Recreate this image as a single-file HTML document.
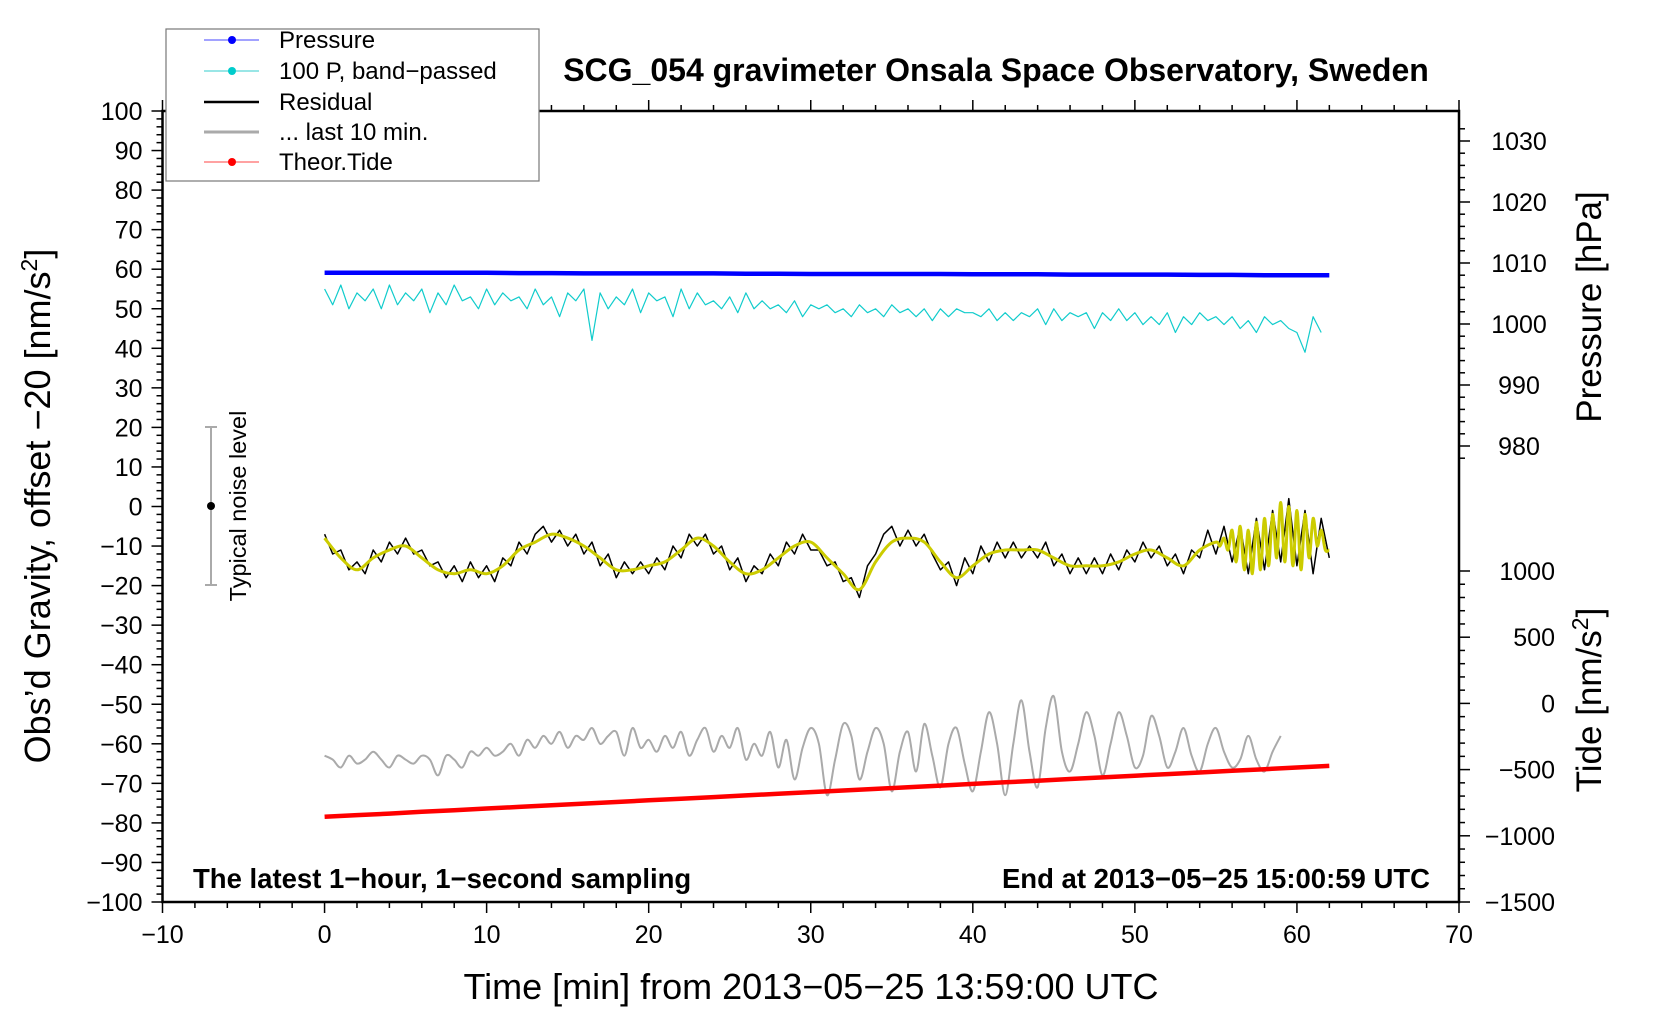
<!DOCTYPE html>
<html><head><meta charset="utf-8"><style>
html,body{margin:0;padding:0;background:#fff;}
svg{display:block;font-family:"Liberation Sans",sans-serif;}
</style></head><body>
<svg id="chart" width="1660" height="1020" viewBox="0 0 1660 1020" xmlns="http://www.w3.org/2000/svg">
<rect x="0" y="0" width="1660" height="1020" fill="#fff"/>
<g id="axes"></g>
<g id="series"></g>
<text x="996" y="81" font-size="32" font-weight="bold" text-anchor="middle">SCG_054 gravimeter Onsala Space Observatory, Sweden</text>
<text x="811" y="999" font-size="36" text-anchor="middle">Time [min] from 2013−05−25 13:59:00 UTC</text>
<text transform="translate(50,506) rotate(-90)" font-size="36" text-anchor="middle">Obs’d Gravity, offset −20 [nm/s<tspan font-size="23" dy="-13">2</tspan><tspan dy="13">]</tspan></text>
<text transform="translate(1601,307) rotate(-90)" font-size="35" text-anchor="middle">Pressure [hPa]</text>
<text transform="translate(1601,700) rotate(-90)" font-size="35" text-anchor="middle">Tide [nm/s<tspan font-size="23" dy="-13">2</tspan><tspan dy="13">]</tspan></text>
<text x="193" y="888" font-size="27.5" font-weight="bold">The latest 1−hour, 1−second sampling</text>
<text x="1430" y="888" font-size="27.5" font-weight="bold" text-anchor="end">End at 2013−05−25 15:00:59 UTC</text>
<g>
<line x1="211" y1="427" x2="211" y2="585" stroke="#aaa" stroke-width="2"/>
<line x1="205" y1="427" x2="217" y2="427" stroke="#aaa" stroke-width="2"/>
<line x1="205" y1="585" x2="217" y2="585" stroke="#aaa" stroke-width="2"/>
<circle cx="211" cy="506" r="4" fill="#000"/>
<text transform="translate(246,506) rotate(-90)" font-size="23.5" text-anchor="middle">Typical noise level</text>
</g>
<g>
<rect x="166" y="29" width="373" height="152" fill="#fff" stroke="#777" stroke-width="1.2"/>
<g><line x1="204" y1="40" x2="259" y2="40" stroke="#44f" stroke-width="1"/><circle cx="232" cy="40" r="4" fill="#00f"/><text x="279" y="48" font-size="24">Pressure</text></g>
<g><line x1="204" y1="71" x2="259" y2="71" stroke="#3cc" stroke-width="1"/><circle cx="232" cy="71" r="4" fill="#0cc"/><text x="279" y="79" font-size="24">100 P, band−passed</text></g>
<g><line x1="204" y1="102" x2="259" y2="102" stroke="#000" stroke-width="2.5"/><text x="279" y="110" font-size="24">Residual</text></g>
<g><line x1="204" y1="132" x2="259" y2="132" stroke="#aaa" stroke-width="3"/><text x="279" y="140" font-size="24">... last 10 min.</text></g>
<g><line x1="204" y1="162" x2="259" y2="162" stroke="#f44" stroke-width="1"/><circle cx="232" cy="162" r="4" fill="#f00"/><text x="279" y="170" font-size="24">Theor.Tide</text></g>
</g>
</svg>
<script>
const residual=[-7,-12,-11,-16,-14,-17,-11,-14,-9,-12,-8,-12,-11,-15,-14,-18,-15,-19,-14,-18,-15,-19,-13,-15,-9,-12,-7,-5,-9,-6,-10,-7,-12,-9,-15,-12,-18,-14,-17,-14,-17,-13,-16,-10,-13,-7,-10,-7,-12,-10,-16,-13,-19,-15,-17,-12,-15,-9,-12,-7,-11,-11,-15,-14,-19,-18,-23,-15,-12,-7,-5,-10,-6,-10,-7,-12,-16,-14,-20,-13,-17,-10,-14,-9,-13,-9,-13,-10,-13,-9,-15,-12,-17,-13,-17,-13,-17,-12,-16,-11,-14,-9,-13,-10,-15,-12,-17,-11,-13,-6,-12,-5,-14,-5,-17,-3,-16,-1,-14,2,-15,-1,-17,-3,-13];
const smooth=[-8,-13,-16,-13,-11,-10,-13,-16,-17,-16,-17,-15,-11,-9,-7,-8,-10,-13,-16,-16,-15,-14,-11,-8,-10,-14,-17,-16,-13,-10,-9,-13,-17,-21,-14,-9,-8,-9,-14,-18,-15,-12,-11,-11,-11,-13,-15,-15,-15,-14,-12,-11,-13,-15,-11,-9];
const smoothTail=[-9,-10,-8,-11,-6,-14,-5,-16,-6,-17,-4,-16,-3,-15,-2,-13,1,-14,0,-15,-1,-16,-2,-13,-3,-10,-6,-11,-11];
const bandpassed=[55,51,56,50,54,52,55,50,56,51,54,52,55,49,54,51,56,52,53,50,55,51,54,52,53,50,55,51,53,48,54,52,55,42,54,50,53,51,55,49,54,52,53,48,55,50,54,51,52,50,53,49,54,50,52,50,51,49,52,48,51,50,51,49,50,48,51,49,50,48,51,49,50,48,50,47,50,48,50,49,49,48,50,47,49,47,49,48,50,46,50,47,49,48,49,45,49,47,50,47,49,46,48,46,49,44,48,46,49,47,48,46,48,45,47,44,48,46,47,45,44,39,48,44];
const last10=[-63,-64,-66,-63,-65,-64,-62,-64,-66,-63,-64,-65,-63,-64,-68,-63,-64,-66,-62,-63,-61,-63,-62,-60,-63,-59,-61,-58,-60,-57,-61,-58,-59,-56,-60,-58,-57,-63,-56,-61,-59,-62,-58,-61,-57,-63,-59,-56,-62,-58,-61,-56,-64,-60,-63,-57,-66,-59,-69,-61,-56,-60,-73,-64,-55,-58,-69,-62,-56,-60,-72,-62,-57,-67,-55,-63,-71,-60,-56,-65,-72,-62,-52,-60,-73,-60,-49,-62,-71,-56,-48,-62,-67,-60,-52,-58,-68,-60,-52,-58,-66,-63,-53,-58,-66,-62,-56,-63,-67,-60,-56,-62,-66,-64,-58,-64,-67,-62,-58];
const pressure=[1008.4,1008.4,1008.4,1008.4,1008.4,1008.4,1008.35,1008.35,1008.3,1008.3,1008.3,1008.3,1008.3,1008.25,1008.25,1008.2,1008.2,1008.2,1008.2,1008.2,1008.15,1008.15,1008.15,1008.1,1008.1,1008.1,1008.1,1008.05,1008.05,1008.0,1008.0,1008.0];
const tide=[-856,-844,-832,-819,-807,-794,-782,-770,-757,-745,-732,-720,-708,-695,-683,-670,-658,-646,-633,-621,-608,-596,-584,-571,-559,-546,-534,-522,-509,-497,-484,-472];
const xTicks=[-10,0,10,20,30,40,50,60,70];
const yTicks=[100,90,80,70,60,50,40,30,20,10,0,-10,-20,-30,-40,-50,-60,-70,-80,-90,-100];
const pTicks=[980,990,1000,1010,1020,1030];
const tTicks=[-1500,-1000,-500,0,500,1000];

const L=162.5,R=1459,T=111,B=902;
const X=t=>L+(t+10)*(R-L)/80;
const Y=v=>T+(100-v)*(B-T)/200;
const YP=p=>141+(1030-p)*6.1;
const YT=v=>B-(v+1500)*0.1324;
const NS='http://www.w3.org/2000/svg';
const ax=document.getElementById('axes'), se=document.getElementById('series');
function mk(tag,attrs,parent){const e=document.createElementNS(NS,tag);for(const k in attrs)e.setAttribute(k,attrs[k]);parent.appendChild(e);return e;}
function ln(x1,y1,x2,y2,w,parent){return mk('line',{x1,y1,x2,y2,stroke:'#000','stroke-width':w},parent);}

const frame=mk('rect',{x:L,y:T,width:R-L,height:B-T,fill:'none',stroke:'#000','stroke-width':2.5},ax);


for(let t=-10;t<=70;t+=2){const major=t%10===0;ln(X(t),B,X(t),B+(major?11:6),1.5,ax);ln(X(t),T,X(t),T-(major?11:6),1.5,ax);}
xTicks.forEach(t=>{const e=mk('text',{x:X(t),y:B+41,'font-size':25,'text-anchor':'middle'},ax);e.textContent=String(t).replace('-','−');

});
for(let v=-100;v<=100;v+=2){const major=v%10===0;ln(L,Y(v),L-(major?11:6),Y(v),1.5,ax);}
yTicks.forEach(v=>{const e=mk('text',{x:L-20,y:Y(v)+9,'font-size':25,'text-anchor':'end'},ax);e.textContent=String(v).replace('-','−');

});
for(let p=978;p<=1032;p+=2){const major=p%10===0;ln(R,YP(p),R+(major?11:6),YP(p),1.5,ax);}
pTicks.forEach(p=>{const e=mk('text',{x:R+60,y:YP(p)+9,'font-size':25,'text-anchor':'middle'},ax);e.textContent=p;

});
for(let v=-1500;v<=1000;v+=100){const major=v%500===0;ln(R,YT(v),R+(major?11:6),YT(v),1.5,ax);}
tTicks.forEach(v=>{const e=mk('text',{x:R+96,y:YT(v)+9,'font-size':25,'text-anchor':'end'},ax);e.textContent=String(v).replace('-','−');

});

function poly(pts,stroke,w){return mk('polyline',{points:pts.map(p=>p[0].toFixed(1)+','+p[1].toFixed(1)).join(' '),fill:'none',stroke,'stroke-width':w,'stroke-linejoin':'round'},se);}
function smoothPath(pts,stroke,w){let d='M'+pts[0][0]+','+pts[0][1];for(let i=0;i<pts.length-1;i++){const p0=pts[i-1]||pts[i],p1=pts[i],p2=pts[i+1],p3=pts[i+2]||p2;
d+=' C'+(p1[0]+(p2[0]-p0[0])/6).toFixed(1)+','+(p1[1]+(p2[1]-p0[1])/6).toFixed(1)+' '+(p2[0]-(p3[0]-p1[0])/6).toFixed(1)+','+(p2[1]-(p3[1]-p1[1])/6).toFixed(1)+' '+p2[0].toFixed(1)+','+p2[1].toFixed(1);}
return mk('path',{d,fill:'none',stroke,'stroke-width':w},se);}

let e;
e=poly(pressure.map((p,i)=>[X(i*2),YP(p)]),'#00f',4.5);


e=poly(bandpassed.map((v,i)=>[X(i*0.5),Y(v)]),'#1cc',1.2);


e=smoothPath(last10.map((v,i)=>[X(i*0.5),Y(v)]),'#aaa',2);


e=poly(tide.map((v,i)=>[X(i*2),YT(v)]),'#f00',4.5);


e=poly(residual.map((v,i)=>[X(i*0.5),Y(v)]),'#000',1.5);


const sm=smooth.map((v,i)=>[X(i),Y(v)]).concat(smoothTail.map((v,i)=>[X(55+i*0.25),Y(v)]).slice(1));
e=smoothPath(sm,'#cc0',3);


</script>
</body></html>
